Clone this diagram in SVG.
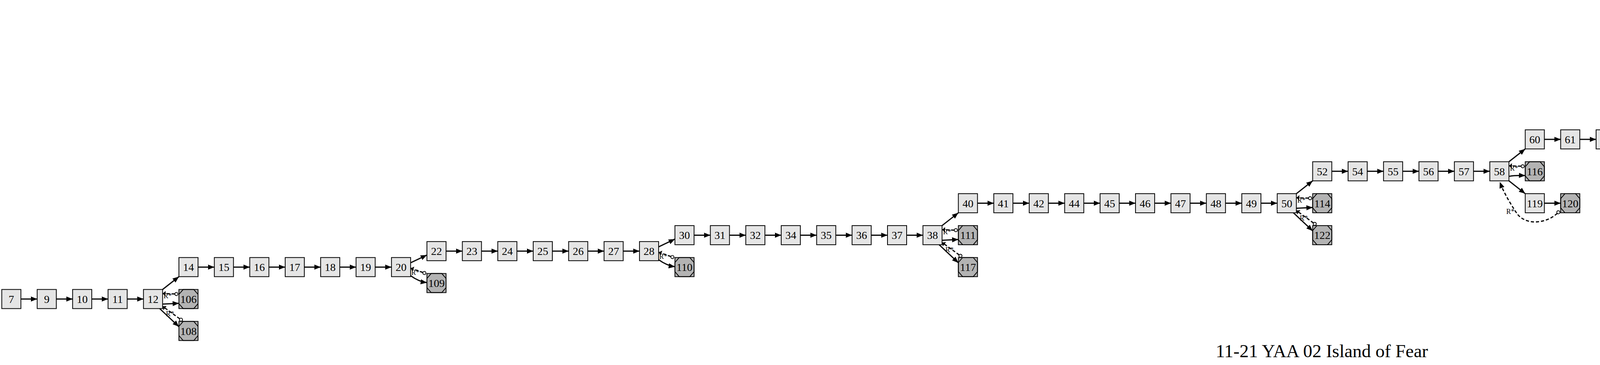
<svg xmlns="http://www.w3.org/2000/svg" width="6768" height="935" viewBox="0 0 6768 935">
<style>
.n rect{fill:#e5e5e5;stroke:#000;stroke-width:2}
.e rect{fill:#b3b3b3;stroke:#000;stroke-width:2}
.e polygon{fill:none;stroke:#000;stroke-width:2}
.n text,.e text{font-family:"Liberation Serif","Times New Roman",serif;font-size:28px;text-anchor:middle;fill:#000}
.s{fill:none;stroke:#000;stroke-width:3;marker-end:url(#ah)}
.d{fill:none;stroke:#000;stroke-width:3;stroke-dasharray:8,5;marker-start:url(#od);marker-end:url(#sh)}
.lb{font-family:"Liberation Serif","Times New Roman",serif;font-size:18px;fill:#000}
.title{font-family:"Liberation Serif","Times New Roman",serif;font-size:47px;text-anchor:middle;fill:#000}
</style>
<defs>
<marker id="ah" markerUnits="userSpaceOnUse" markerWidth="16" markerHeight="13" refX="16" refY="6.5" orient="auto" overflow="visible"><path d="M0,0L16,6.5L0,13z" fill="#000"/></marker>
<marker id="sh" markerUnits="userSpaceOnUse" markerWidth="7" markerHeight="14" refX="7" refY="7" orient="auto" overflow="visible"><path d="M0,0L7,7L0,14z" fill="#000"/></marker>
<marker id="od" markerUnits="userSpaceOnUse" markerWidth="12" markerHeight="12" refX="10" refY="6" orient="auto" overflow="visible"><circle cx="6" cy="6" r="4" fill="#fff" stroke="#000" stroke-width="2"/></marker>
</defs>
<rect width="6768" height="935" fill="#fff"/>
<g id="edges">
<path class="s" d="M53.5,766h41.7"/>
<path class="s" d="M144.2,766h41.7"/>
<path class="s" d="M234.9,766h41.7"/>
<path class="s" d="M325.6,766h41.7"/>
<path class="s" d="M507,684.2h41.7"/>
<path class="s" d="M597.7,684.2h41.7"/>
<path class="s" d="M688.4,684.2h41.7"/>
<path class="s" d="M779.1,684.2h41.7"/>
<path class="s" d="M869.8,684.2h41.7"/>
<path class="s" d="M960.5,684.2h41.7"/>
<path class="s" d="M1141.9,643.3h41.7"/>
<path class="s" d="M1232.6,643.3h41.7"/>
<path class="s" d="M1323.3,643.3h41.7"/>
<path class="s" d="M1414,643.3h41.7"/>
<path class="s" d="M1504.7,643.3h41.7"/>
<path class="s" d="M1595.4,643.3h41.7"/>
<path class="s" d="M1776.8,602.4h41.7"/>
<path class="s" d="M1867.5,602.4h41.7"/>
<path class="s" d="M1958.2,602.4h41.7"/>
<path class="s" d="M2048.9,602.4h41.7"/>
<path class="s" d="M2139.6,602.4h41.7"/>
<path class="s" d="M2230.3,602.4h41.7"/>
<path class="s" d="M2321,602.4h41.7"/>
<path class="s" d="M2502.4,520.6h41.7"/>
<path class="s" d="M2593.1,520.6h41.7"/>
<path class="s" d="M2683.8,520.6h41.7"/>
<path class="s" d="M2774.5,520.6h41.7"/>
<path class="s" d="M2865.2,520.6h41.7"/>
<path class="s" d="M2955.9,520.6h41.7"/>
<path class="s" d="M3046.6,520.6h41.7"/>
<path class="s" d="M3137.3,520.6h41.7"/>
<path class="s" d="M3228,520.6h41.7"/>
<path class="s" d="M3409.4,438.8h41.7"/>
<path class="s" d="M3500.1,438.8h41.7"/>
<path class="s" d="M3590.8,438.8h41.7"/>
<path class="s" d="M3681.5,438.8h41.7"/>
<path class="s" d="M3772.2,438.8h41.7"/>
<path class="s" d="M3953.6,357h41.7"/>
<path class="s" d="M4044.3,357h41.7"/>
<path class="s" d="M4135,357h41.7"/>
<path class="s" d="M4225.7,357h41.7"/>
<path class="s" d="M4316.4,357h41.7"/>
<path class="s" d="M4407.1,357h41.7"/>
<path class="s" d="M4497.8,357h41.7"/>
<path class="s" d="M4588.5,357h41.7"/>
<path class="s" d="M3953.6,520.6h41.7"/>
<path class="s" d="M4769.9,316.1h41.7"/>
<path class="s" d="M4860.6,316.1h41.7"/>
<path class="s" d="M4951.3,316.1h41.7"/>
<path class="s" d="M5132.7,234.3h41.7"/>
<path class="s" d="M5314.1,152.5h41.7"/>
<path class="s" d="M5404.8,152.5h41.7"/>
<path class="s" d="M5495.5,152.5h41.7"/>
<path class="s" d="M5586.2,152.5h41.7"/>
<path class="s" d="M5676.9,152.5h41.7"/>
<path class="s" d="M5858.3,111.6h41.7"/>
<path class="s" d="M6039.7,70.7h41.7"/>
<path class="s" d="M6130.4,70.7h41.7"/>
<path class="s" d="M6221.1,70.7h41.7"/>
<path class="s" d="M6311.8,70.7h41.7"/>
<path class="s" d="M6402.5,70.7h41.7"/>
<path class="s" d="M6583.9,29.8h41.7"/>
<path class="s" d="M6674.6,29.8h41.7"/>
<g id="b12" transform="translate(391.8,766)">
<path class="s" d="M24.5,-24.5L66.2,-57.3"/><path class="s" d="M24.5,13L66.2,11"/><path class="s" d="M17,24.5L66.2,70.8"/>
<path class="d" d="M55.7,-13L25,-14"/><path class="d" d="M68.3,50.6L25,19"/>
<text class="lb" x="27" y="-2">R*</text><text class="lb" x="33" y="44">R*</text></g>
<g id="b38" transform="translate(2387.2,602.4)">
<path class="s" d="M24.5,-24.5L66.2,-57.3"/><path class="s" d="M24.5,13L66.2,11"/><path class="s" d="M17,24.5L66.2,70.8"/>
<path class="d" d="M55.7,-13L25,-14"/><path class="d" d="M68.3,50.6L25,19"/>
<text class="lb" x="27" y="-2">R*</text><text class="lb" x="33" y="44">R*</text></g>
<g id="b50" transform="translate(3294.2,520.6)">
<path class="s" d="M24.5,-24.5L66.2,-57.3"/><path class="s" d="M24.5,13L66.2,11"/><path class="s" d="M17,24.5L66.2,70.8"/>
<path class="d" d="M55.7,-13L25,-14"/><path class="d" d="M68.3,50.6L25,19"/>
<text class="lb" x="27" y="-2">R*</text><text class="lb" x="33" y="44">R*</text></g>
<g id="b76" transform="translate(5017.5,316.1)">
<path class="s" d="M24.5,-24.5L66.2,-57.3"/><path class="s" d="M24.5,13L66.2,11"/><path class="s" d="M17,24.5L66.2,70.8"/>
<path class="d" d="M55.7,-13L25,-14"/><path class="d" d="M68.3,50.6L25,19"/>
<text class="lb" x="27" y="-2">R*</text><text class="lb" x="33" y="44">R*</text></g>
<g id="b80" transform="translate(5198.9,234.3)">
<path class="s" d="M24.5,-24.5L66.2,-57.3"/><path class="s" d="M24.5,13L66.2,11"/><path class="s" d="M17,24.5L66.2,70.8"/>
<path class="d" d="M55.7,-13L25,-14"/><path class="d" d="M68.3,50.6L25,19"/>
<text class="lb" x="27" y="-2">R*</text><text class="lb" x="33" y="44">R*</text></g>
<g id="b58" transform="translate(3838.4,438.8)">
<path class="s" d="M24.5,-24.5L66.2,-57.3"/><path class="s" d="M24.5,13Q40,10 66.2,11"/><path class="s" d="M24.5,24.5L66.2,57.3"/>
<path class="d" d="M55.7,-13L25,-14"/>
<text class="lb" x="27" y="-2">R*</text></g>
<path class="d" d="M3986.5,546.5C3960,572 3905,580 3882,545C3870,527 3850,495 3839.5,466" style="marker-end:url(#ah)"/>
<text class="lb" x="3856" y="548">R*</text>
<g id="b20" transform="translate(1026.7,684.2)">
<path class="s" d="M24.5,-11L66.2,-30.9"/><path class="s" d="M24.5,22Q45,37 66.2,39.9"/>
<path class="d" d="M55.9,13.8L25,3"/><text class="lb" x="26" y="20">R*</text></g>
<g id="b28" transform="translate(1661.6,643.3)">
<path class="s" d="M24.5,-11L66.2,-30.9"/><path class="s" d="M24.5,22Q45,37 66.2,39.9"/>
<path class="d" d="M55.9,13.8L25,3"/><text class="lb" x="26" y="20">R*</text></g>
<g id="b70" transform="translate(4654.7,357)">
<path class="s" d="M24.5,-11L66.2,-30.9"/><path class="s" d="M24.5,22Q45,37 66.2,39.9"/>
<path class="d" d="M55.9,13.8L25,3"/><text class="lb" x="26" y="20">R*</text></g>
<g id="b88" transform="translate(5743.1,152.5)">
<path class="s" d="M24.5,-11L66.2,-30.9"/><path class="s" d="M24.5,22Q45,37 66.2,39.9"/>
<path class="d" d="M55.9,13.8L25,3"/><text class="lb" x="26" y="20">R*</text></g>
<g id="b92" transform="translate(5924.5,111.6)">
<path class="s" d="M24.5,-11L66.2,-30.9"/><path class="s" d="M24.5,22Q45,37 66.2,39.9"/>
<path class="d" d="M55.9,13.8L25,3"/><text class="lb" x="26" y="20">R*</text></g>
<g id="b100" transform="translate(6468.7,70.7)">
<path class="s" d="M24.5,-11L66.2,-30.9"/><path class="s" d="M24.5,22Q45,37 66.2,39.9"/>
<path class="d" d="M55.9,13.8L25,3"/><text class="lb" x="26" y="20">R*</text></g>
</g>
<g id="nodes">
<g id="n7" class="n" transform="translate(29,766)"><rect x="-24.5" y="-24.5" width="49" height="49"/><text y="10">7</text></g>
<g id="n9" class="n" transform="translate(119.7,766)"><rect x="-24.5" y="-24.5" width="49" height="49"/><text y="10">9</text></g>
<g id="n10" class="n" transform="translate(210.4,766)"><rect x="-24.5" y="-24.5" width="49" height="49"/><text y="10">10</text></g>
<g id="n11" class="n" transform="translate(301.1,766)"><rect x="-24.5" y="-24.5" width="49" height="49"/><text y="10">11</text></g>
<g id="n12" class="n" transform="translate(391.8,766)"><rect x="-24.5" y="-24.5" width="49" height="49"/><text y="10">12</text></g>
<g id="n14" class="n" transform="translate(482.5,684.2)"><rect x="-24.5" y="-24.5" width="49" height="49"/><text y="10">14</text></g>
<g id="n15" class="n" transform="translate(573.2,684.2)"><rect x="-24.5" y="-24.5" width="49" height="49"/><text y="10">15</text></g>
<g id="n16" class="n" transform="translate(663.9,684.2)"><rect x="-24.5" y="-24.5" width="49" height="49"/><text y="10">16</text></g>
<g id="n17" class="n" transform="translate(754.6,684.2)"><rect x="-24.5" y="-24.5" width="49" height="49"/><text y="10">17</text></g>
<g id="n18" class="n" transform="translate(845.3,684.2)"><rect x="-24.5" y="-24.5" width="49" height="49"/><text y="10">18</text></g>
<g id="n19" class="n" transform="translate(936,684.2)"><rect x="-24.5" y="-24.5" width="49" height="49"/><text y="10">19</text></g>
<g id="n20" class="n" transform="translate(1026.7,684.2)"><rect x="-24.5" y="-24.5" width="49" height="49"/><text y="10">20</text></g>
<g id="n22" class="n" transform="translate(1117.4,643.3)"><rect x="-24.5" y="-24.5" width="49" height="49"/><text y="10">22</text></g>
<g id="n23" class="n" transform="translate(1208.1,643.3)"><rect x="-24.5" y="-24.5" width="49" height="49"/><text y="10">23</text></g>
<g id="n24" class="n" transform="translate(1298.8,643.3)"><rect x="-24.5" y="-24.5" width="49" height="49"/><text y="10">24</text></g>
<g id="n25" class="n" transform="translate(1389.5,643.3)"><rect x="-24.5" y="-24.5" width="49" height="49"/><text y="10">25</text></g>
<g id="n26" class="n" transform="translate(1480.2,643.3)"><rect x="-24.5" y="-24.5" width="49" height="49"/><text y="10">26</text></g>
<g id="n27" class="n" transform="translate(1570.9,643.3)"><rect x="-24.5" y="-24.5" width="49" height="49"/><text y="10">27</text></g>
<g id="n28" class="n" transform="translate(1661.6,643.3)"><rect x="-24.5" y="-24.5" width="49" height="49"/><text y="10">28</text></g>
<g id="n30" class="n" transform="translate(1752.3,602.4)"><rect x="-24.5" y="-24.5" width="49" height="49"/><text y="10">30</text></g>
<g id="n31" class="n" transform="translate(1843,602.4)"><rect x="-24.5" y="-24.5" width="49" height="49"/><text y="10">31</text></g>
<g id="n32" class="n" transform="translate(1933.7,602.4)"><rect x="-24.5" y="-24.5" width="49" height="49"/><text y="10">32</text></g>
<g id="n34" class="n" transform="translate(2024.4,602.4)"><rect x="-24.5" y="-24.5" width="49" height="49"/><text y="10">34</text></g>
<g id="n35" class="n" transform="translate(2115.1,602.4)"><rect x="-24.5" y="-24.5" width="49" height="49"/><text y="10">35</text></g>
<g id="n36" class="n" transform="translate(2205.8,602.4)"><rect x="-24.5" y="-24.5" width="49" height="49"/><text y="10">36</text></g>
<g id="n37" class="n" transform="translate(2296.5,602.4)"><rect x="-24.5" y="-24.5" width="49" height="49"/><text y="10">37</text></g>
<g id="n38" class="n" transform="translate(2387.2,602.4)"><rect x="-24.5" y="-24.5" width="49" height="49"/><text y="10">38</text></g>
<g id="n40" class="n" transform="translate(2477.9,520.6)"><rect x="-24.5" y="-24.5" width="49" height="49"/><text y="10">40</text></g>
<g id="n41" class="n" transform="translate(2568.6,520.6)"><rect x="-24.5" y="-24.5" width="49" height="49"/><text y="10">41</text></g>
<g id="n42" class="n" transform="translate(2659.3,520.6)"><rect x="-24.5" y="-24.5" width="49" height="49"/><text y="10">42</text></g>
<g id="n44" class="n" transform="translate(2750,520.6)"><rect x="-24.5" y="-24.5" width="49" height="49"/><text y="10">44</text></g>
<g id="n45" class="n" transform="translate(2840.7,520.6)"><rect x="-24.5" y="-24.5" width="49" height="49"/><text y="10">45</text></g>
<g id="n46" class="n" transform="translate(2931.4,520.6)"><rect x="-24.5" y="-24.5" width="49" height="49"/><text y="10">46</text></g>
<g id="n47" class="n" transform="translate(3022.1,520.6)"><rect x="-24.5" y="-24.5" width="49" height="49"/><text y="10">47</text></g>
<g id="n48" class="n" transform="translate(3112.8,520.6)"><rect x="-24.5" y="-24.5" width="49" height="49"/><text y="10">48</text></g>
<g id="n49" class="n" transform="translate(3203.5,520.6)"><rect x="-24.5" y="-24.5" width="49" height="49"/><text y="10">49</text></g>
<g id="n50" class="n" transform="translate(3294.2,520.6)"><rect x="-24.5" y="-24.5" width="49" height="49"/><text y="10">50</text></g>
<g id="n52" class="n" transform="translate(3384.9,438.8)"><rect x="-24.5" y="-24.5" width="49" height="49"/><text y="10">52</text></g>
<g id="n54" class="n" transform="translate(3475.6,438.8)"><rect x="-24.5" y="-24.5" width="49" height="49"/><text y="10">54</text></g>
<g id="n55" class="n" transform="translate(3566.3,438.8)"><rect x="-24.5" y="-24.5" width="49" height="49"/><text y="10">55</text></g>
<g id="n56" class="n" transform="translate(3657,438.8)"><rect x="-24.5" y="-24.5" width="49" height="49"/><text y="10">56</text></g>
<g id="n57" class="n" transform="translate(3747.7,438.8)"><rect x="-24.5" y="-24.5" width="49" height="49"/><text y="10">57</text></g>
<g id="n58" class="n" transform="translate(3838.4,438.8)"><rect x="-24.5" y="-24.5" width="49" height="49"/><text y="10">58</text></g>
<g id="n60" class="n" transform="translate(3929.1,357)"><rect x="-24.5" y="-24.5" width="49" height="49"/><text y="10">60</text></g>
<g id="n61" class="n" transform="translate(4019.8,357)"><rect x="-24.5" y="-24.5" width="49" height="49"/><text y="10">61</text></g>
<g id="n62" class="n" transform="translate(4110.5,357)"><rect x="-24.5" y="-24.5" width="49" height="49"/><text y="10">62</text></g>
<g id="n64" class="n" transform="translate(4201.2,357)"><rect x="-24.5" y="-24.5" width="49" height="49"/><text y="10">64</text></g>
<g id="n65" class="n" transform="translate(4291.9,357)"><rect x="-24.5" y="-24.5" width="49" height="49"/><text y="10">65</text></g>
<g id="n66" class="n" transform="translate(4382.6,357)"><rect x="-24.5" y="-24.5" width="49" height="49"/><text y="10">66</text></g>
<g id="n68" class="n" transform="translate(4473.3,357)"><rect x="-24.5" y="-24.5" width="49" height="49"/><text y="10">68</text></g>
<g id="n69" class="n" transform="translate(4564,357)"><rect x="-24.5" y="-24.5" width="49" height="49"/><text y="10">69</text></g>
<g id="n70" class="n" transform="translate(4654.7,357)"><rect x="-24.5" y="-24.5" width="49" height="49"/><text y="10">70</text></g>
<g id="n119" class="n" transform="translate(3929.1,520.6)"><rect x="-24.5" y="-24.5" width="49" height="49"/><text y="10">119</text></g>
<g id="n72" class="n" transform="translate(4745.4,316.1)"><rect x="-24.5" y="-24.5" width="49" height="49"/><text y="10">72</text></g>
<g id="n73" class="n" transform="translate(4836.1,316.1)"><rect x="-24.5" y="-24.5" width="49" height="49"/><text y="10">73</text></g>
<g id="n75" class="n" transform="translate(4926.8,316.1)"><rect x="-24.5" y="-24.5" width="49" height="49"/><text y="10">75</text></g>
<g id="n76" class="n" transform="translate(5017.5,316.1)"><rect x="-24.5" y="-24.5" width="49" height="49"/><text y="10">76</text></g>
<g id="n78" class="n" transform="translate(5108.2,234.3)"><rect x="-24.5" y="-24.5" width="49" height="49"/><text y="10">78</text></g>
<g id="n80" class="n" transform="translate(5198.9,234.3)"><rect x="-24.5" y="-24.5" width="49" height="49"/><text y="10">80</text></g>
<g id="n82" class="n" transform="translate(5289.6,152.5)"><rect x="-24.5" y="-24.5" width="49" height="49"/><text y="10">82</text></g>
<g id="n83" class="n" transform="translate(5380.3,152.5)"><rect x="-24.5" y="-24.5" width="49" height="49"/><text y="10">83</text></g>
<g id="n85" class="n" transform="translate(5471,152.5)"><rect x="-24.5" y="-24.5" width="49" height="49"/><text y="10">85</text></g>
<g id="n86" class="n" transform="translate(5561.7,152.5)"><rect x="-24.5" y="-24.5" width="49" height="49"/><text y="10">86</text></g>
<g id="n87" class="n" transform="translate(5652.4,152.5)"><rect x="-24.5" y="-24.5" width="49" height="49"/><text y="10">87</text></g>
<g id="n88" class="n" transform="translate(5743.1,152.5)"><rect x="-24.5" y="-24.5" width="49" height="49"/><text y="10">88</text></g>
<g id="n90" class="n" transform="translate(5833.8,111.6)"><rect x="-24.5" y="-24.5" width="49" height="49"/><text y="10">90</text></g>
<g id="n92" class="n" transform="translate(5924.5,111.6)"><rect x="-24.5" y="-24.5" width="49" height="49"/><text y="10">92</text></g>
<g id="n94" class="n" transform="translate(6015.2,70.7)"><rect x="-24.5" y="-24.5" width="49" height="49"/><text y="10">94</text></g>
<g id="n95" class="n" transform="translate(6105.9,70.7)"><rect x="-24.5" y="-24.5" width="49" height="49"/><text y="10">95</text></g>
<g id="n96" class="n" transform="translate(6196.6,70.7)"><rect x="-24.5" y="-24.5" width="49" height="49"/><text y="10">96</text></g>
<g id="n97" class="n" transform="translate(6287.3,70.7)"><rect x="-24.5" y="-24.5" width="49" height="49"/><text y="10">97</text></g>
<g id="n99" class="n" transform="translate(6378,70.7)"><rect x="-24.5" y="-24.5" width="49" height="49"/><text y="10">99</text></g>
<g id="n100" class="n" transform="translate(6468.7,70.7)"><rect x="-24.5" y="-24.5" width="49" height="49"/><text y="10">100</text></g>
<g id="n102" class="n" transform="translate(6559.4,29.8)"><rect x="-24.5" y="-24.5" width="49" height="49"/><text y="10">102</text></g>
<g id="n103" class="n" transform="translate(6650.1,29.8)"><rect x="-24.5" y="-24.5" width="49" height="49"/><text y="10">103</text></g>
<g id="n104" class="n" transform="translate(6740.8,29.8)"><rect x="-24.5" y="-24.5" width="49" height="49"/><text y="10">104</text></g>
<g id="n106" class="e" transform="translate(482.5,766)"><rect x="-24.5" y="-24.5" width="49" height="49"/><polygon points="-13.5,-24.5 13.5,-24.5 24.5,-11.8 24.5,11.8 13.5,24.5 -13.5,24.5 -24.5,11.8 -24.5,-11.8"/><text y="10">106</text></g>
<g id="n108" class="e" transform="translate(482.5,847.8)"><rect x="-24.5" y="-24.5" width="49" height="49"/><polygon points="-13.5,-24.5 13.5,-24.5 24.5,-11.8 24.5,11.8 13.5,24.5 -13.5,24.5 -24.5,11.8 -24.5,-11.8"/><text y="10">108</text></g>
<g id="n109" class="e" transform="translate(1117.4,725.1)"><rect x="-24.5" y="-24.5" width="49" height="49"/><polygon points="-13.5,-24.5 13.5,-24.5 24.5,-11.8 24.5,11.8 13.5,24.5 -13.5,24.5 -24.5,11.8 -24.5,-11.8"/><text y="10">109</text></g>
<g id="n110" class="e" transform="translate(1752.3,684.2)"><rect x="-24.5" y="-24.5" width="49" height="49"/><polygon points="-13.5,-24.5 13.5,-24.5 24.5,-11.8 24.5,11.8 13.5,24.5 -13.5,24.5 -24.5,11.8 -24.5,-11.8"/><text y="10">110</text></g>
<g id="n111" class="e" transform="translate(2477.9,602.4)"><rect x="-24.5" y="-24.5" width="49" height="49"/><polygon points="-13.5,-24.5 13.5,-24.5 24.5,-11.8 24.5,11.8 13.5,24.5 -13.5,24.5 -24.5,11.8 -24.5,-11.8"/><text y="10">111</text></g>
<g id="n117" class="e" transform="translate(2477.9,684.2)"><rect x="-24.5" y="-24.5" width="49" height="49"/><polygon points="-13.5,-24.5 13.5,-24.5 24.5,-11.8 24.5,11.8 13.5,24.5 -13.5,24.5 -24.5,11.8 -24.5,-11.8"/><text y="10">117</text></g>
<g id="n114" class="e" transform="translate(3384.9,520.6)"><rect x="-24.5" y="-24.5" width="49" height="49"/><polygon points="-13.5,-24.5 13.5,-24.5 24.5,-11.8 24.5,11.8 13.5,24.5 -13.5,24.5 -24.5,11.8 -24.5,-11.8"/><text y="10">114</text></g>
<g id="n122" class="e" transform="translate(3384.9,602.4)"><rect x="-24.5" y="-24.5" width="49" height="49"/><polygon points="-13.5,-24.5 13.5,-24.5 24.5,-11.8 24.5,11.8 13.5,24.5 -13.5,24.5 -24.5,11.8 -24.5,-11.8"/><text y="10">122</text></g>
<g id="n116" class="e" transform="translate(3929.1,438.8)"><rect x="-24.5" y="-24.5" width="49" height="49"/><polygon points="-13.5,-24.5 13.5,-24.5 24.5,-11.8 24.5,11.8 13.5,24.5 -13.5,24.5 -24.5,11.8 -24.5,-11.8"/><text y="10">116</text></g>
<g id="n120" class="e" transform="translate(4019.8,520.6)"><rect x="-24.5" y="-24.5" width="49" height="49"/><polygon points="-13.5,-24.5 13.5,-24.5 24.5,-11.8 24.5,11.8 13.5,24.5 -13.5,24.5 -24.5,11.8 -24.5,-11.8"/><text y="10">120</text></g>
<g id="n121" class="e" transform="translate(4745.4,397.9)"><rect x="-24.5" y="-24.5" width="49" height="49"/><polygon points="-13.5,-24.5 13.5,-24.5 24.5,-11.8 24.5,11.8 13.5,24.5 -13.5,24.5 -24.5,11.8 -24.5,-11.8"/><text y="10">121</text></g>
<g id="n125" class="e" transform="translate(5108.2,316.1)"><rect x="-24.5" y="-24.5" width="49" height="49"/><polygon points="-13.5,-24.5 13.5,-24.5 24.5,-11.8 24.5,11.8 13.5,24.5 -13.5,24.5 -24.5,11.8 -24.5,-11.8"/><text y="10">125</text></g>
<g id="n126" class="e" transform="translate(5108.2,397.9)"><rect x="-24.5" y="-24.5" width="49" height="49"/><polygon points="-13.5,-24.5 13.5,-24.5 24.5,-11.8 24.5,11.8 13.5,24.5 -13.5,24.5 -24.5,11.8 -24.5,-11.8"/><text y="10">126</text></g>
<g id="n115" class="e" transform="translate(5289.6,234.3)"><rect x="-24.5" y="-24.5" width="49" height="49"/><polygon points="-13.5,-24.5 13.5,-24.5 24.5,-11.8 24.5,11.8 13.5,24.5 -13.5,24.5 -24.5,11.8 -24.5,-11.8"/><text y="10">115</text></g>
<g id="n118" class="e" transform="translate(5289.6,316.1)"><rect x="-24.5" y="-24.5" width="49" height="49"/><polygon points="-13.5,-24.5 13.5,-24.5 24.5,-11.8 24.5,11.8 13.5,24.5 -13.5,24.5 -24.5,11.8 -24.5,-11.8"/><text y="10">118</text></g>
<g id="n127" class="e" transform="translate(5833.8,193.4)"><rect x="-24.5" y="-24.5" width="49" height="49"/><polygon points="-13.5,-24.5 13.5,-24.5 24.5,-11.8 24.5,11.8 13.5,24.5 -13.5,24.5 -24.5,11.8 -24.5,-11.8"/><text y="10">127</text></g>
<g id="n124" class="e" transform="translate(6015.2,152.5)"><rect x="-24.5" y="-24.5" width="49" height="49"/><polygon points="-13.5,-24.5 13.5,-24.5 24.5,-11.8 24.5,11.8 13.5,24.5 -13.5,24.5 -24.5,11.8 -24.5,-11.8"/><text y="10">124</text></g>
<g id="n107" class="e" transform="translate(6559.4,111.6)"><rect x="-24.5" y="-24.5" width="49" height="49"/><polygon points="-13.5,-24.5 13.5,-24.5 24.5,-11.8 24.5,11.8 13.5,24.5 -13.5,24.5 -24.5,11.8 -24.5,-11.8"/><text y="10">107</text></g>
</g>
<text class="title" x="3384" y="915">11-21 YAA 02 Island of Fear</text>
</svg>
